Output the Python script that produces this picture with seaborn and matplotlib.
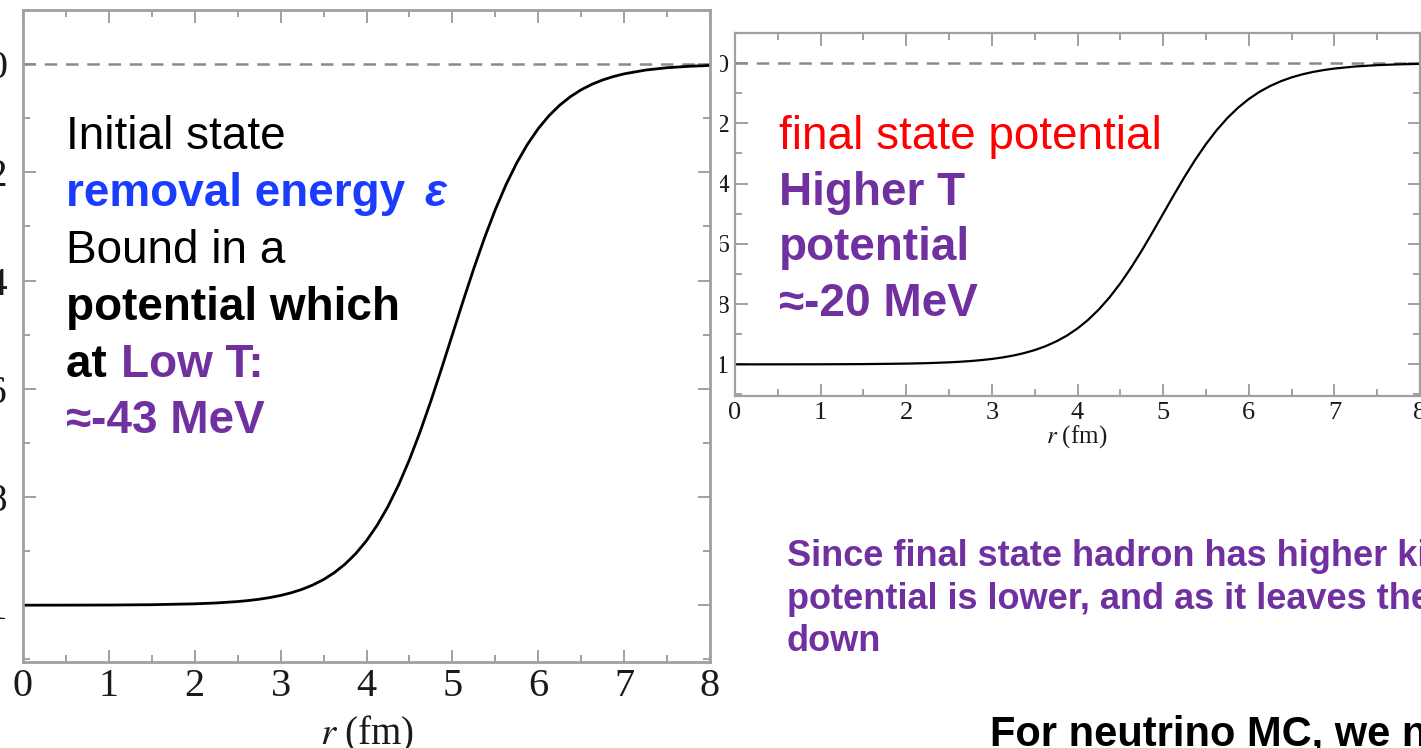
import numpy as np
import pandas as pd
import matplotlib
matplotlib.use("Agg")
import matplotlib.pyplot as plt
from matplotlib.ticker import MultipleLocator, FuncFormatter
from matplotlib.transforms import Bbox
import seaborn as sns

# ---- data ----
r_initial = [0.0, 0.5, 1.0, 1.5, 2.0, 2.25, 2.5, 2.625, 2.75, 2.875, 3.0, 3.125,
             3.25, 3.375, 3.5, 3.625, 3.75, 3.875, 4.0, 4.125, 4.25, 4.375, 4.5,
             4.625, 4.75, 4.875, 5.0, 5.125, 5.25, 5.375, 5.5, 5.625, 5.75, 5.875,
             6.0, 6.125, 6.25, 6.375, 6.5, 6.625, 6.75, 6.875, 7.0, 7.25, 7.5,
             7.75, 8.0]
v_initial = [-1.000, -0.9999, -0.9997, -0.9991, -0.9975, -0.9959, -0.9933, -0.9914,
             -0.9890, -0.9859, -0.9820, -0.9770, -0.9707, -0.9627, -0.9526, -0.9399,
             -0.9241, -0.9047, -0.8808, -0.8520, -0.8176, -0.7773, -0.7311, -0.6792,
             -0.6225, -0.5622, -0.5000, -0.4378, -0.3775, -0.3208, -0.2689, -0.2227,
             -0.1824, -0.1481, -0.1192, -0.0954, -0.0759, -0.0601, -0.0474, -0.0373,
             -0.0293, -0.0230, -0.0180, -0.0110, -0.0067, -0.0041, -0.0025]
r_final = [0.0, 0.5, 1.0, 1.5, 2.0, 2.25, 2.5, 2.625, 2.75, 2.875, 3.0, 3.125,
           3.25, 3.375, 3.5, 3.625, 3.75, 3.875, 4.0, 4.125, 4.25, 4.375, 4.5,
           4.625, 4.75, 4.875, 5.0, 5.125, 5.25, 5.375, 5.5, 5.625, 5.75, 5.875,
           6.0, 6.125, 6.25, 6.375, 6.5, 6.625, 6.75, 6.875, 7.0, 7.25, 7.5,
           7.75, 8.0]
v_final = [-1.000, -0.9999, -0.9997, -0.9991, -0.9975, -0.9959, -0.9933, -0.9914,
           -0.9890, -0.9859, -0.9820, -0.9770, -0.9707, -0.9627, -0.9526, -0.9399,
           -0.9241, -0.9047, -0.8808, -0.8520, -0.8176, -0.7773, -0.7311, -0.6792,
           -0.6225, -0.5622, -0.5000, -0.4378, -0.3775, -0.3208, -0.2689, -0.2227,
           -0.1824, -0.1481, -0.1192, -0.0954, -0.0759, -0.0601, -0.0474, -0.0373,
           -0.0293, -0.0230, -0.0180, -0.0110, -0.0067, -0.0041, -0.0025]
x_ticks = [0, 1, 2, 3, 4, 5, 6, 7, 8]
y_ticks = [-1.0, -0.8, -0.6, -0.4, -0.2, 0.0]

sns.set_theme(style="ticks")
plt.rcParams["font.family"] = ["Liberation Sans", "DejaVu Sans"]

W, H = 1421, 748
fig = plt.figure(figsize=(W / 100, H / 100), dpi=100)
fig.patch.set_facecolor("white")


def fx(x):
    return x / W


def fy(y):
    return 1 - y / H


def style_axes(ax, tick_size, major_len, lw, ypad):
    ax.set_xlim(0, 8)
    ax.set_ylim(-1.105, 0.1)
    ax.set_xticks(x_ticks)
    ax.set_yticks(y_ticks)
    ax.xaxis.set_minor_locator(MultipleLocator(0.5))
    ax.yaxis.set_minor_locator(MultipleLocator(0.1))
    ax.yaxis.set_major_formatter(FuncFormatter(lambda v, p: f"{v:g}"))
    ax.tick_params(which="both", direction="in", top=True, right=True,
                   color="#9a9a9a", width=1.3)
    ax.tick_params(which="major", length=major_len, labelsize=tick_size, pad=4,
                   labelcolor="#1a1a1a")
    ax.tick_params(axis="y", which="major", pad=ypad)
    ax.tick_params(which="minor", length=major_len * 0.55)
    for lab in ax.get_xticklabels() + ax.get_yticklabels():
        lab.set_family(["Liberation Serif", "DejaVu Serif"])
    for s in ax.spines.values():
        s.set_color("#a0a0a0")
        s.set_linewidth(lw)
    ax.set_facecolor("white")
    ax.axhline(0, color="#8a8a8a", lw=1.8, ls=(0, (5, 3.5)), zorder=1)
    ax.set_xlabel("")
    ax.set_ylabel("")


# ---- left panel ----
axL = fig.add_axes([fx(23), fy(662), fx(710 - 23), (662 - 10) / H])
df_i = pd.DataFrame({"r": r_initial, "V": v_initial})
sns.lineplot(data=df_i, x="r", y="V", ax=axL, color="black", lw=2.0)
style_axes(axL, 29, 9, 2.0, 11)
fig.text(fx(367), fy(744), r"$r$" + " (fm)", ha="center", va="baseline",
         fontsize=28, family=["Liberation Serif"], math_fontfamily="stix",
         color="#1a1a1a")

# ---- right panel ----
axR = fig.add_axes([fx(735), fy(396), fx(1420 - 735), (396 - 33) / H])
df_f = pd.DataFrame({"r": r_final, "V": v_final})
sns.lineplot(data=df_f, x="r", y="V", ax=axR, color="black", lw=1.6)
style_axes(axR, 19, 9, 1.6, 4)
fig.text(fx(1077), fy(443), r"$r$" + " (fm)", ha="center", va="baseline",
         fontsize=18, family=["Liberation Serif"], math_fontfamily="stix",
         color="#1a1a1a")

# the right panel's y labels are hidden behind the left panel, only a sliver shows
clip = Bbox.from_extents(720, 0, 760, H)
for t in axR.yaxis.get_major_ticks():
    t.label1.set_clip_box(clip)
    t.label1.set_clip_on(True)

# ---- overlay texts ----
purple = "#7030A0"
blue = "#1a3cff"
fs = 33
fig.text(fx(66), fy(149), "Initial state", fontsize=fs, color="black", va="baseline")
fig.text(fx(66), fy(206), "removal energy ", fontsize=fs, color=blue,
         weight="bold", va="baseline")
fig.text(fx(424), fy(206), "ε", fontsize=fs, color=blue, weight="bold",
         style="italic", va="baseline")
fig.text(fx(66), fy(263), "Bound in a", fontsize=fs, color="black", va="baseline")
fig.text(fx(66), fy(320), "potential which", fontsize=fs, color="black",
         weight="bold", va="baseline")
fig.text(fx(66), fy(377), "at ", fontsize=fs, color="black", weight="bold",
         va="baseline")
fig.text(fx(121), fy(377), "Low T:", fontsize=fs, color=purple, weight="bold",
         va="baseline")
fig.text(fx(66), fy(433), "≈-43 MeV", fontsize=fs, color=purple, weight="bold",
         va="baseline")

fig.text(fx(779), fy(149), "final state potential", fontsize=fs, color="#ff0000",
         va="baseline")
fig.text(fx(779), fy(205), "Higher T", fontsize=fs, color=purple, weight="bold",
         va="baseline")
fig.text(fx(779), fy(260), "potential", fontsize=fs, color=purple, weight="bold",
         va="baseline")
fig.text(fx(779), fy(316), "≈-20 MeV", fontsize=fs, color=purple, weight="bold",
         va="baseline")

fs2 = 26
fig.text(fx(787), fy(566), "Since final state hadron has higher kinetic energy, the",
         fontsize=fs2, color=purple, weight="bold", va="baseline")
fig.text(fx(787), fy(609), "potential is lower, and as it leaves the nucleus it slows",
         fontsize=fs2, color=purple, weight="bold", va="baseline")
fig.text(fx(787), fy(651), "down", fontsize=fs2, color=purple, weight="bold",
         va="baseline")
fig.text(fx(990), fy(746), "For neutrino MC, we need", fontsize=30, color="black",
         weight="bold", va="baseline")

fig.savefig("out.png", dpi=100)
